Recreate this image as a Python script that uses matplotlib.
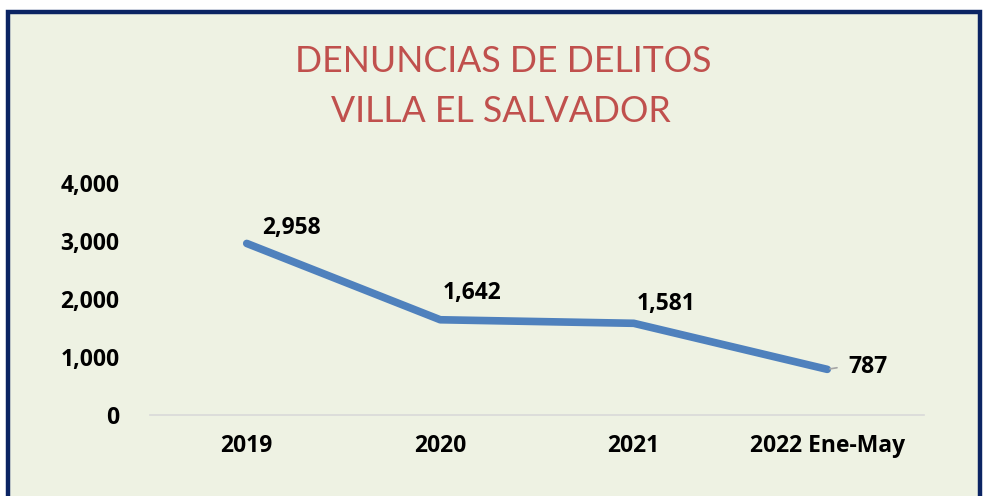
import matplotlib.pyplot as plt
from matplotlib.patches import Rectangle

years = ["2019", "2020", "2021", "2022 Ene-May"]
denuncias = [2958, 1642, 1581, 787]
yticks = [0, 1000, 2000, 3000, 4000]

plt.rcParams['font.family'] = ['Lato', 'DejaVu Sans']
lab_font = dict(family=["Open Sans", "DejaVu Sans"], size=16.5, weight="bold")

fig = plt.figure(figsize=(9.85, 4.96), dpi=100)
fig.patch.set_facecolor("white")

# chart area background + navy frame (bottom edge runs off the image)
bg = Rectangle((8/985, -0.05), (980-8)/985, 1 - 12/496 + 0.05, transform=fig.transFigure,
               facecolor="#eef2e3", edgecolor="#0b2463", linewidth=3.2, zorder=-10)
fig.patches.append(bg)

ax = fig.add_axes([150/985, 1-415/496, (924-150)/985, (415-183)/496])
ax.set_facecolor("none")
ax.set_zorder(5)

x = list(range(len(years)))
ax.plot(x, denuncias, color="#4f81bd", linewidth=5.5, solid_capstyle="round",
        solid_joinstyle="round", zorder=3)

ax.set_xlim(-0.5, len(years) - 0.5)
ax.set_ylim(0, 4000)
ax.set_yticks(yticks)
ax.set_yticklabels([f"{v:,}" for v in yticks], fontdict=lab_font)
ax.set_xticks(x)
ax.set_xticklabels(years, fontdict=lab_font)
ax.tick_params(length=0)
ax.tick_params(axis="y", pad=22)
ax.tick_params(axis="x", pad=14)
for s in ["top", "right", "left"]:
    ax.spines[s].set_visible(False)
ax.spines["bottom"].set_color("#d9d9d9")
ax.spines["bottom"].set_linewidth(1.2)

offsets = [(11, 11), (2, 19.5), (2, 14), (15, 1.5)]
for i, (v, off) in enumerate(zip(denuncias, offsets)):
    ax.annotate(f"{v:,}", (i, v), xytext=off, textcoords="offset points",
                ha="left", va="center", **lab_font)
# leader line for the last label
ax.annotate("", (3, denuncias[3]), xytext=(9, 1.5), textcoords="offset points",
            arrowprops=dict(arrowstyle="-", color="#a6a6a6", lw=1.2, zorder=4), zorder=4)

fig.text(503/985, 1-62/496, "DENUNCIAS DE DELITOS", ha="center", va="center",
         fontsize=25.7, color="#c0504d")
fig.text(501/985, 1-112/496, "VILLA EL SALVADOR", ha="center", va="center",
         fontsize=25.7, color="#c0504d")

fig.savefig("out.png", dpi=100)
